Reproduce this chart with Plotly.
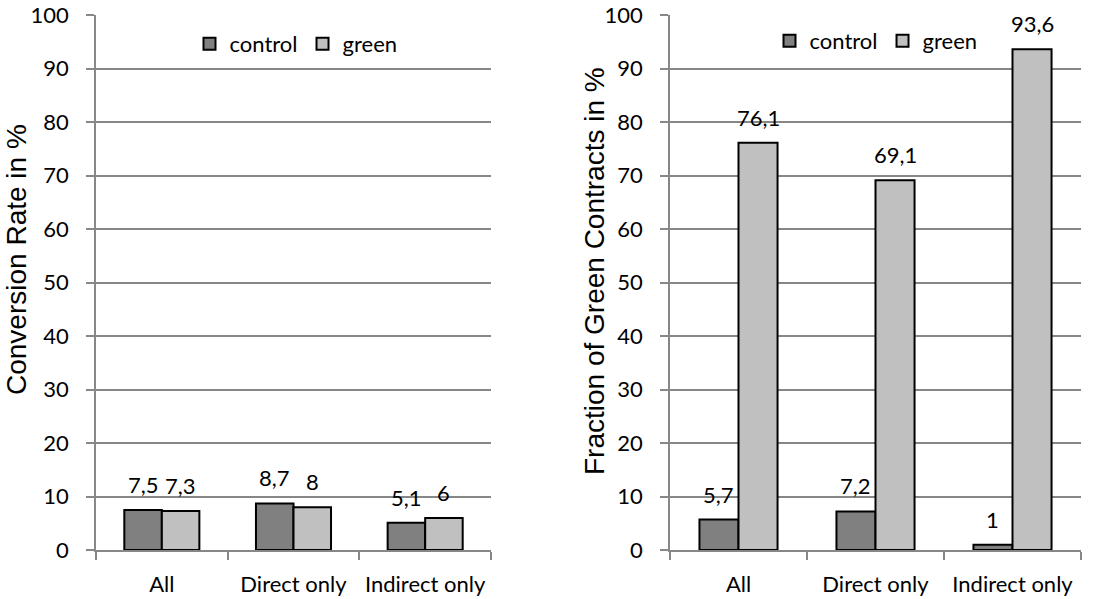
import plotly.graph_objects as go

categories = ["All", "Direct only", "Indirect only"]
conv_control = [7.5, 8.7, 5.1]
conv_green = [7.3, 8.0, 6.0]
frac_control = [5.7, 7.2, 1.0]
frac_green = [76.1, 69.1, 93.6]

C_CONTROL = "#808080"
C_GREEN = "#C0C0C0"
GRID = "#878787"
TICK_FONT = dict(family="Lato, Carlito, Calibri, sans-serif", size=22, color="#000")
TITLE_FONT = dict(family="Liberation Sans, Arial, sans-serif", size=28, color="#000")

BARGAP = 0.43
HALF_OFFSET = (1 - BARGAP) / 4  # centre of each of the two bars in a group


def fmt(v):
    return f"{v:g}".replace(".", ",")


def bar(name, x, y, color, xa, ya, legend):
    return go.Bar(
        name=name, x=x, y=y, xaxis=xa, yaxis=ya,
        marker=dict(color=color, line=dict(color="#000", width=2)),
        legend=legend, showlegend=True,
    )


fig = go.Figure()
fig.add_trace(bar("control", categories, conv_control, C_CONTROL, "x", "y", "legend"))
fig.add_trace(bar("green", categories, conv_green, C_GREEN, "x", "y", "legend"))
fig.add_trace(bar("control", categories, frac_control, C_CONTROL, "x2", "y2", "legend2"))
fig.add_trace(bar("green", categories, frac_green, C_GREEN, "x2", "y2", "legend2"))

# value labels above each bar
for xa, ya, series in (("x", "y", (conv_control, conv_green)),
                       ("x2", "y2", (frac_control, frac_green))):
    for k, values in enumerate(series):
        offset = -HALF_OFFSET if k == 0 else HALF_OFFSET
        for i, v in enumerate(values):
            fig.add_annotation(
                x=i + offset, y=v, xref=xa, yref=ya, text=fmt(v),
                showarrow=False, yanchor="bottom", xanchor="center",
                yshift=10, font=TICK_FONT,
            )

W, H = 1117, 599
y_dom = [1 - 550 / H, 1 - 15 / H]

# axis titles
fig.add_annotation(text="Conversion Rate in %", textangle=-90, xref="paper", yref="paper",
                   x=16 / W, y=1 - 260 / H, xanchor="center", yanchor="middle",
                   showarrow=False, font=TITLE_FONT)
fig.add_annotation(text="Fraction of Green Contracts in %", textangle=-90, xref="paper", yref="paper",
                   x=594 / W, y=1 - 271 / H, xanchor="center", yanchor="middle",
                   showarrow=False, font=TITLE_FONT)

xcommon = dict(
    showgrid=False, showline=True, linecolor=GRID, linewidth=1.5,
    ticks="outside", tickson="boundaries", ticklen=8, tickcolor=GRID, tickwidth=1.5,
    tickfont=TICK_FONT, ticklabelstandoff=14, automargin=False, fixedrange=True,
)
ycommon = dict(
    range=[0, 100], dtick=10, showgrid=True, gridcolor=GRID, gridwidth=1.5,
    showline=True, linecolor=GRID, linewidth=1.5, zeroline=False,
    ticks="outside", ticklen=8, tickcolor=GRID, tickwidth=1.5,
    tickfont=TICK_FONT, ticklabelstandoff=13, automargin=False, fixedrange=True,
)

fig.update_layout(
    width=W, height=H,
    margin=dict(l=0, r=0, t=0, b=0),
    paper_bgcolor="white", plot_bgcolor="white",
    barmode="group", bargap=BARGAP, bargroupgap=0,
    xaxis=dict(domain=[96 / W, 491 / W], anchor="y", **xcommon),
    yaxis=dict(domain=y_dom, anchor="x", **ycommon),
    xaxis2=dict(domain=[670 / W, 1081 / W], anchor="y2", **xcommon),
    yaxis2=dict(domain=y_dom, anchor="x2", **ycommon),
    legend=dict(orientation="h", x=296 / W, y=1 - 44 / H, xanchor="center", yanchor="middle",
                font=TICK_FONT, bgcolor="rgba(0,0,0,0)", itemwidth=30, traceorder="normal"),
    legend2=dict(orientation="h", x=876 / W, y=1 - 41 / H, xanchor="center", yanchor="middle",
                 font=TICK_FONT, bgcolor="rgba(0,0,0,0)", itemwidth=30, traceorder="normal"),
)

fig.write_html("out.html")
